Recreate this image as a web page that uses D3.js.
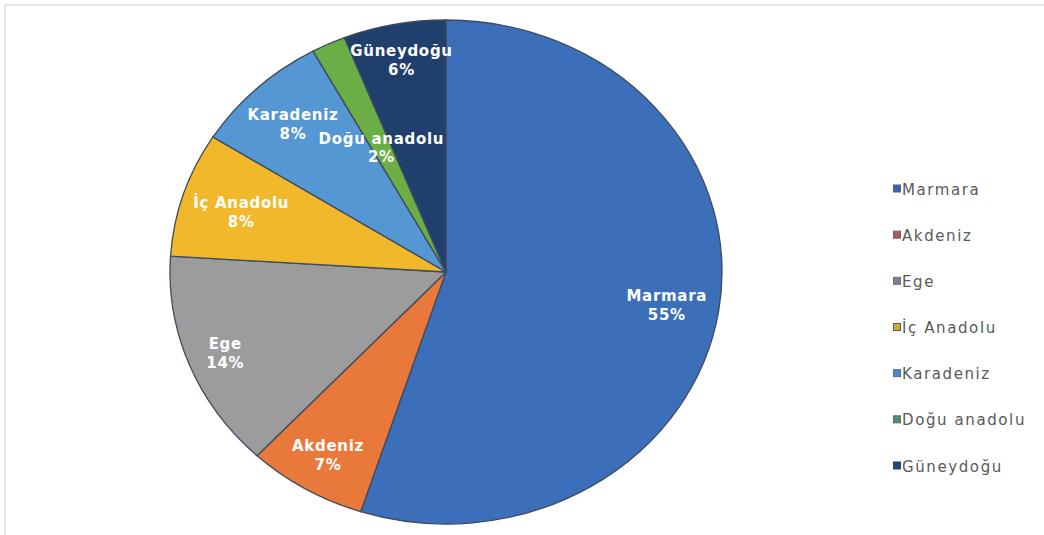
<!DOCTYPE html>
<html>
<head>
<meta charset="utf-8">
<script src="https://cdn.jsdelivr.net/npm/d3@7"></script>
<style>
  html, body { margin: 0; padding: 0; background: #fff; }
  svg { display: block; }
</style>
</head>
<body>
<svg id="chart" width="1044" height="535"></svg>
<script>
// Regional shares (%)
const regions = ["Marmara", "Akdeniz", "Ege", "İç Anadolu", "Karadeniz", "Doğu anadolu", "Güneydoğu"];
const shares = [55, 7, 14, 8, 8, 2, 6];
const sliceColors = ["#3b6fba", "#e8793a", "#9c9c9c", "#f1b82c", "#5597d3", "#6aae45", "#213f6d"];
const legendFill = ["#3a64b2", "#a55c63", "#80828f", "#c6b02e", "#4f88c8", "#4e8f6c", "#234679"];
const legendStroke = ["#4a5f8c", "#7d5a66", "#6d6f80", "#6b4c8c", "#4c6f9e", "#4d7465", "#2c3f66"];

const svg = d3.select("#chart");
const W = 1044, H = 535;

// light frame
svg.append("rect")
  .attr("x", 5).attr("y", 5)
  .attr("width", W + 20).attr("height", H + 20)
  .attr("fill", "none").attr("stroke", "#dcdcdc").attr("stroke-width", 1.5);

const cx = 446, cy = 272, rx = 276, ry = 252;

const data = regions.map((r, i) => ({ name: r, value: shares[i] }));
const pie = d3.pie().value(d => d.value).sort(null);
const arcs = pie(data);
const arc = d3.arc().innerRadius(0).outerRadius(ry);

const color = d3.scaleOrdinal().domain(regions).range(sliceColors);

// slices drawn on a circle, then stretched horizontally into an ellipse
const g = svg.append("g")
  .attr("transform", `translate(${cx},${cy}) scale(${rx / ry},1)`);

g.selectAll("path.slice")
  .data(arcs)
  .join("path")
  .attr("class", "slice")
  .attr("d", arc)
  .attr("fill", d => color(d.data.name))
  .attr("stroke", "#3f4a5e")
  .attr("stroke-width", 1.3)
  .attr("vector-effect", "non-scaling-stroke");

// data labels: placed along the slice bisector, pulled inward until the
// whole label block sits inside the ellipse
const labels = svg.append("g")
  .attr("font-family", "'DejaVu Sans', sans-serif")
  .attr("font-weight", "bold")
  .attr("font-size", 15)
  .attr("fill", "#ffffff")
  .attr("text-anchor", "middle")
  .attr("letter-spacing", 0.7);

const inside = (x, y) => Math.hypot((x - cx) / rx, (y - cy) / ry);

arcs.forEach(d => {
  const a = (d.startAngle + d.endAngle) / 2;
  const t = labels.append("text");
  const l1 = t.append("tspan").attr("dy", "-0.2em").text(d.data.name);
  const l2 = t.append("tspan").attr("dy", "1.25em").text(d.data.value + "%");
  const place = f => {
    const x = cx + Math.sin(a) * rx * f, y = cy - Math.cos(a) * ry * f;
    t.attr("x", x).attr("y", y);
    l1.attr("x", x); l2.attr("x", x);
  };
  let f = d.data.value < 3 ? 0.55 : 0.86;
  place(f);
  if (d.data.value >= 3) {
    for (let k = 0; k < 40; k++) {
      const b = t.node().getBBox();
      const corners = [[b.x, b.y + 3], [b.x + b.width, b.y + 3],
                       [b.x, b.y + b.height - 3], [b.x + b.width, b.y + b.height - 3]];
      if (d3.max(corners, c => inside(c[0], c[1])) <= 0.97) break;
      f -= 0.01;
      place(f);
    }
  }
});

// legend
const legendY = d3.scalePoint().domain(regions).range([189, 466]);
const legend = svg.append("g");
regions.forEach((r, i) => {
  const y = legendY(r);
  legend.append("rect")
    .attr("x", 893.5).attr("y", y - 4)
    .attr("width", 7).attr("height", 7)
    .attr("fill", legendFill[i])
    .attr("stroke", legendStroke[i]).attr("stroke-width", 1);
  legend.append("text")
    .attr("x", 902).attr("y", y + 5.5)
    .attr("font-family", "'DejaVu Sans', sans-serif")
    .attr("font-size", 15)
    .attr("letter-spacing", 1.6)
    .attr("fill", "#595959")
    .text(r);
});
</script>
</body>
</html>
